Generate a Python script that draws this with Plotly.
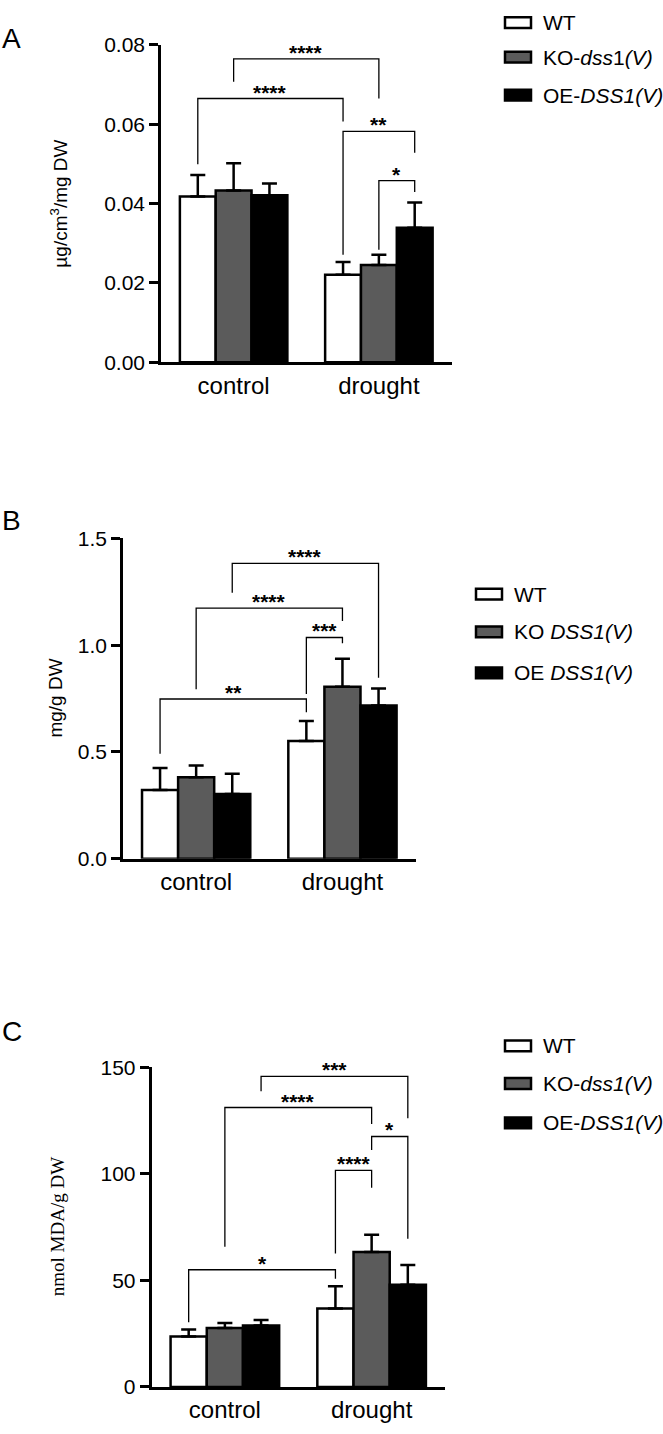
import plotly.graph_objects as go

# ---------------- data ----------------
groups = ["control", "drought"]
series = ["WT", "KO", "OE"]

A_means = {"WT": [0.0418, 0.0221], "KO": [0.0433, 0.0245], "OE": [0.0421, 0.0339]}
A_err = {"WT": [0.0054, 0.0032], "KO": [0.0069, 0.0026], "OE": [0.0030, 0.0064]}
A_ticks = [0.00, 0.02, 0.04, 0.06, 0.08]

B_means = {"WT": [0.322, 0.551], "KO": [0.382, 0.805], "OE": [0.303, 0.717]}
B_err = {"WT": [0.103, 0.094], "KO": [0.055, 0.132], "OE": [0.095, 0.080]}
B_ticks = [0.0, 0.5, 1.0, 1.5]

C_means = {"WT": [23.7, 36.8], "KO": [27.7, 63.4], "OE": [28.8, 48.0]}
C_err = {"WT": [3.2, 10.5], "KO": [2.3, 8.1], "OE": [2.6, 9.3]}
C_ticks = [0, 50, 100, 150]

# significance brackets: (group_left, series_left, group_right, series_right, y_bar, y_left_end, y_right_end, label)
A_brackets = [
    (0, "KO", 1, "KO", 0.0765, 0.0707, 0.0665, "****"),
    (0, "WT", 1, "WT", 0.0665, 0.0499, 0.0607, "****"),
    (1, "WT", 1, "OE", 0.0582, 0.0271, 0.0528, "**"),
    (1, "KO", 1, "OE", 0.0458, 0.0284, 0.0429, "*"),
]
B_brackets = [
    (0, "OE", 1, "OE", 1.383, 1.245, 0.848, "****"),
    (0, "KO", 1, "KO", 1.174, 0.794, 1.113, "****"),
    (1, "WT", 1, "KO", 1.036, 0.771, 1.009, "***"),
    (0, "WT", 1, "WT", 0.748, 0.491, 0.686, "**"),
]
C_brackets = [
    (0, "OE", 1, "OE", 145.8, 138.9, 126.2, "***"),
    (0, "KO", 1, "KO", 131.2, 65.8, 123.5, "****"),
    (1, "KO", 1, "OE", 117.6, 111.2, 69.6, "*"),
    (1, "WT", 1, "KO", 101.7, 62.7, 93.5, "****"),
    (0, "WT", 1, "WT", 55.0, 30.3, 50.8, "*"),
]

A_legend = ["WT", "KO-<i>dss</i>1<i>(V)</i>", "OE-<i>DSS1(V)</i>"]
B_legend = ["WT", "KO <i>DSS1(V)</i>", "OE <i>DSS1(V)</i>"]
C_legend = ["WT", "KO-<i>dss1(V)</i>", "OE-<i>DSS1(V)</i>"]

# ---------------- styling / layout geometry ----------------
W, H = 663, 1434
FONT = "Liberation Sans, Arial, Helvetica, sans-serif"
fills = {"WT": "#ffffff", "KO": "#5b5b5b", "OE": "#000000"}
BARGAP = 0.26
bw = (1 - BARGAP) / 3
offs = {"WT": -bw, "KO": 0.0, "OE": bw}

panels = [
    dict(key="", means=A_means, err=A_err, ticks=A_ticks, fmt=".2f", brackets=A_brackets,
         px=(161, 451.5), py=(33.5, 356), xr=[-0.5, 1.5],
         ytitle="µg/cm<sup>3</sup>/mg DW", ytfont=FONT, ytx=59,
         letter="A", letter_y=27, legend=A_legend, leg_x=505, leg_y=[10.8, 45.8, 84.5]),
    dict(key="2", means=B_means, err=B_err, ticks=B_ticks, fmt=".1f", brackets=B_brackets,
         px=(123, 415.6), py=(535, 860.5), xr=[-0.5, 1.5],
         ytitle="mg/g DW", ytfont=FONT, ytx=56,
         letter="B", letter_y=517, legend=B_legend, leg_x=476, leg_y=[591.7, 630, 671.7]),
    dict(key="3", means=C_means, err=C_err, ticks=C_ticks, fmt="d", brackets=C_brackets,
         px=(151.5, 445), py=(1072.7, 1397.3), xr=[-0.5, 1.5],
         ytitle="nmol MDA/g DW", ytfont="Liberation Serif, Times New Roman, serif", ytx=57,
         letter="C", letter_y=1036, legend=C_legend, leg_x=505, leg_y=[1050.8, 1089, 1129]),
]

fig = go.Figure()
annotations = []
shapes = []
layout = {}

for p in panels:
    xa = "x" + p["key"]
    ya = "y" + p["key"]
    for s in series:
        fig.add_trace(go.Bar(
            x=[0, 1], y=p["means"][s], name=s, offsetgroup=s,
            marker=dict(color=fills[s], line=dict(color="black", width=2.5)),
            error_y=dict(type="data", array=p["err"][s], arrayminus=[0, 0], symmetric=False,
                         color="black", thickness=2.5, width=7.5),
            xaxis=xa, yaxis=ya, showlegend=False, hoverinfo="skip",
        ))
    for (gl, sl, gr, sr, yb, yle, yre, lab) in p["brackets"]:
        xl = gl + offs[sl]
        xr_ = gr + offs[sr]
        fig.add_trace(go.Scatter(
            x=[xl, xl, xr_, xr_], y=[yle, yb, yb, yre], mode="lines",
            line=dict(color="black", width=1.3), xaxis=xa, yaxis=ya,
            showlegend=False, hoverinfo="skip",
        ))
        annotations.append(dict(
            x=(xl + xr_) / 2, y=yb, xref=xa, yref=ya, text="<b>" + lab + "</b>",
            showarrow=False, yanchor="bottom", yshift=-7,
            font=dict(family=FONT, size=21, color="black"),
        ))
    x0, x1 = p["px"]
    yt, ybm = p["py"]
    layout["xaxis" + p["key"]] = dict(
        domain=[x0 / W, x1 / W], range=p["xr"], anchor=ya,
        tickvals=[0, 1], ticktext=groups, showline=True, linecolor="black", linewidth=2.5,
        ticks="", showgrid=False, zeroline=False,
        tickfont=dict(family=FONT, size=24, color="black"), fixedrange=True,
    )
    top = p["ticks"][-1]
    layout["yaxis" + p["key"]] = dict(
        domain=[1 - ybm / H, 1 - yt / H], range=[0, top], anchor=xa,
        tickvals=p["ticks"], tickformat=p["fmt"], showline=True, linecolor="black",
        linewidth=2.5, ticks="outside", ticklen=9, tickwidth=2.5, tickcolor="black",
        showgrid=False, zeroline=False,
        tickfont=dict(family=FONT, size=21, color="black"), fixedrange=True,
    )
    # y-axis title
    annotations.append(dict(
        x=p["ytx"] / W, y=1 - (yt + ybm) / 2 / H, xref="paper", yref="paper",
        text=p["ytitle"], textangle=-90, showarrow=False, xanchor="center", yanchor="middle",
        font=dict(family=p["ytfont"], size=19, color="black"),
    ))
    # panel letter
    annotations.append(dict(
        x=11.5 / W, y=1 - p["letter_y"] / H, xref="paper", yref="paper", text=p["letter"],
        showarrow=False, xanchor="center", yanchor="middle",
        font=dict(family=FONT, size=28, color="black"),
    ))
    # legend (boxes + labels)
    for s, lab, cy in zip(series, p["legend"], p["leg_y"]):
        lx = p["leg_x"]
        shapes.append(dict(
            type="rect", xref="paper", yref="paper",
            x0=lx / W, x1=(lx + 26) / W, y0=1 - (cy + 5.5) / H, y1=1 - (cy - 5.5) / H,
            fillcolor=fills[s], line=dict(color="black", width=2.5),
        ))
        annotations.append(dict(
            x=(lx + 36) / W, y=1 - cy / H, xref="paper", yref="paper", text=lab,
            showarrow=False, xanchor="left", yanchor="middle",
            font=dict(family=FONT, size=21, color="black"),
        ))

fig.update_layout(
    width=W, height=H, margin=dict(l=0, r=0, t=0, b=0),
    paper_bgcolor="white", plot_bgcolor="white",
    barmode="group", bargap=BARGAP, bargroupgap=0,
    annotations=annotations, shapes=shapes, showlegend=False,
    **layout,
)

fig.write_html("out.html")
